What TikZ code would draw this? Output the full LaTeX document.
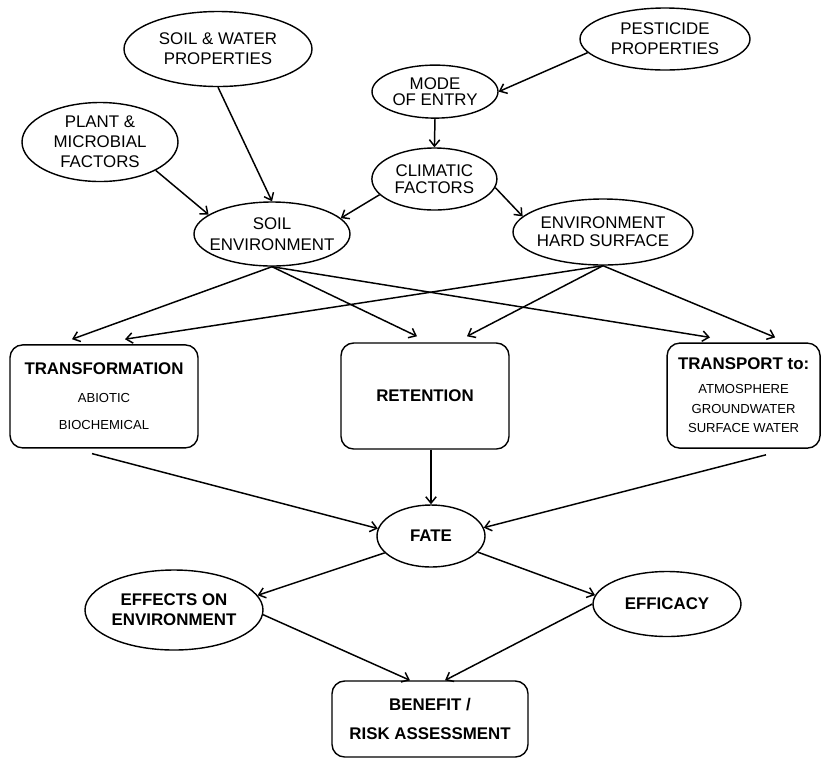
\documentclass[tikz,border=0pt]{standalone}
\usepackage{fontspec}
\setmainfont{Liberation Sans}
\usetikzlibrary{shapes.geometric,arrows.meta}

\begin{document}
\begin{tikzpicture}[
	oval/.style={
		ellipse, draw, line width=1pt,
		inner xsep=-8pt, inner ysep=0pt, align=center,
		font=\fontsize{12}{14.2}\selectfont
	},
	box/.style={
		draw, rounded corners=9pt, line width=1pt,
		inner sep=0pt, align=center
	},
	link/.style={-{Straight Barb[length=1.6mm,width=2.6mm]}, line width=1.05pt}
	]
	\useasboundingbox (0,0) rectangle (20.55,-18.95);
	
	% factors on top
	\node[oval, minimum width=4.7cm, minimum height=1.875cm] (soilwater) at (5.45,-1.225) {SOIL \& WATER\\PROPERTIES};
	\node[oval, minimum width=3.9cm, minimum height=1.975cm] (plant) at (2.5,-3.55) {PLANT \&\\MICROBIAL\\FACTORS};
	\node[oval, minimum width=4.25cm, minimum height=1.55cm] (pesticide) at (16.625,-0.975) {PESTICIDE\\PROPERTIES};
	\node[oval, minimum width=3.15cm, minimum height=1.325cm, font=\fontsize{12}{10.8}\selectfont] (entry) at (10.875,-2.29) {MODE\\OF ENTRY};
	\node[oval, minimum width=3.125cm, minimum height=1.55cm, font=\fontsize{12}{11.8}\selectfont] (climate) at (10.86,-4.475) {CLIMATIC\\FACTORS};
	\node[oval, minimum width=3.9cm, minimum height=1.6cm, font=\fontsize{12}{15}\selectfont] (soilenv) at (6.8,-5.85) {SOIL\\ENVIRONMENT};
	\node[oval, minimum width=4.5cm, minimum height=1.65cm, font=\fontsize{12}{13}\selectfont] (hardsurf) at (15.075,-5.8) {ENVIRONMENT\\HARD SURFACE};
	
	% processes
	\node[box, minimum width=4.7cm, minimum height=2.575cm, font=\fontsize{9.3}{19.4}\selectfont] (transf) at (2.6,-9.91) {{\fontsize{12}{14}\selectfont\bfseries TRANSFORMATION}\\ABIOTIC\\BIOCHEMICAL};
	\node[box, minimum width=4.2cm, minimum height=2.65cm, font=\fontsize{12}{14}\selectfont\bfseries] (retention) at (10.625,-9.9) {RETENTION};
	\node[box, minimum width=3.825cm, minimum height=2.625cm, font=\fontsize{9.3}{14}\selectfont] (transport) at (18.59,-9.89) {{\fontsize{12}{14}\selectfont\bfseries TRANSPORT to:}\\[2.8pt]ATMOSPHERE\\GROUNDWATER\\SURFACE WATER};
	
	% outcome
	\node[oval, minimum width=2.7cm, minimum height=1.55cm, font=\fontsize{12}{14.2}\selectfont\bfseries] (fate) at (10.775,-13.4) {FATE};
	\node[oval, minimum width=4.45cm, minimum height=2cm, font=\fontsize{12}{14.2}\selectfont\bfseries] (effects) at (4.35,-15.25) {EFFECTS ON\\ENVIRONMENT};
	\node[oval, minimum width=3.7cm, minimum height=1.625cm, font=\fontsize{12}{14.2}\selectfont\bfseries] (efficacy) at (16.675,-15.1) {EFFICACY};
	\node[box, minimum width=4.9cm, minimum height=1.9cm, font=\fontsize{12}{20.6}\selectfont\bfseries] (benefit) at (10.75,-17.975) {BENEFIT /\\RISK ASSESSMENT};
	
	\draw[link] (soilwater.south) -- (soilenv.north);
	\draw[link] (plant.-27) -- (soilenv.163);
	\draw[link] (pesticide.190) -- (entry.east);
	\draw[link] (entry.south) -- (climate.north);
	\draw[link] (climate.196) -- (soilenv.13);
	\draw[link] (climate.-8) -- (hardsurf.169);
	
	% crossing arrows into the boxes
	\draw[link] (soilenv.south) -- ([xshift=-0.8cm,yshift=0.125cm]transf.north);
	\draw[link] (soilenv.south) -- ([xshift=-0.2cm,yshift=0.15cm]retention.north);
	\draw[link] (soilenv.south) -- ([xshift=-0.84cm,yshift=0.125cm]transport.north);
	\draw[link] (hardsurf.south) -- ([xshift=0.525cm,yshift=0.125cm]transf.north);
	\draw[link] (hardsurf.south) -- ([xshift=1.05cm,yshift=0.15cm]retention.north);
	\draw[link] (hardsurf.south) -- ([xshift=0.79cm,yshift=0.125cm]transport.north);
	
	\draw[link] ([xshift=-0.3cm,yshift=-0.125cm]transf.south) -- (fate.172);
	\draw[link] (retention.south -| fate.north) -- (fate.north);
	\draw[link] ([xshift=0.56cm,yshift=-0.15cm]transport.south) -- (fate.9);
	\draw[link] (fate.200) -- (effects.10);
	\draw[link] (fate.-19) -- (efficacy.173);
	\draw[link] (effects.-3) -- ([xshift=-0.5cm]benefit.north);
	\draw[link] (efficacy.west) -- ([xshift=0.375cm]benefit.north);
\end{tikzpicture}
\end{document}
